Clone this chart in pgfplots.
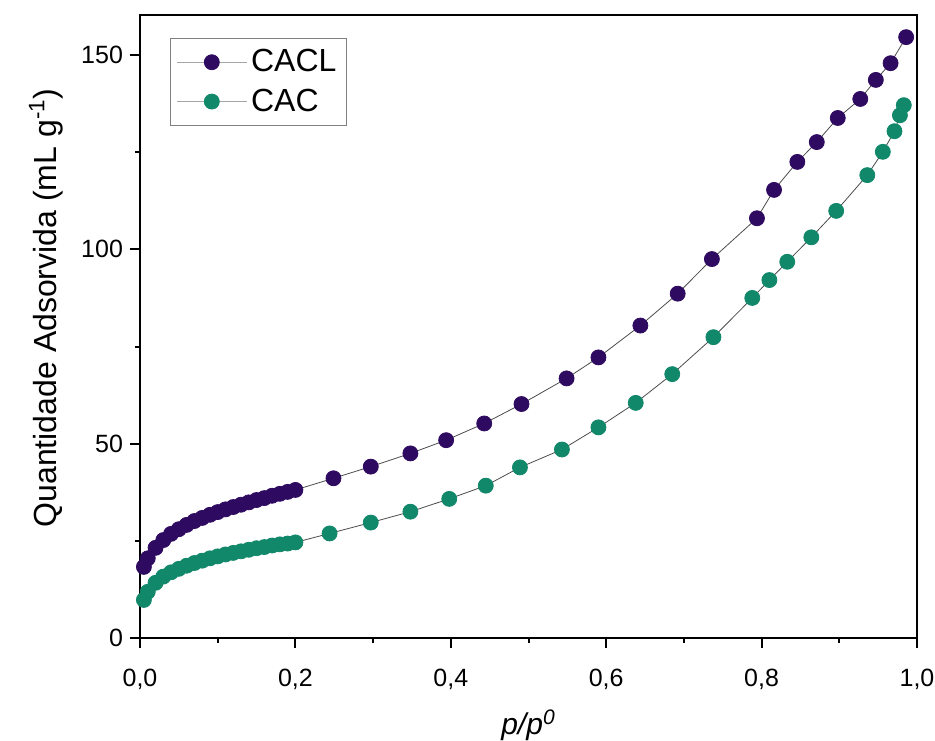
\documentclass[border=0pt]{standalone}
\usepackage{pgfplots}
\pgfplotsset{compat=1.18}
\usepackage{fontspec}
\setmainfont{Liberation Sans}
\definecolor{cacl}{RGB}{46,10,96}
\definecolor{cac}{RGB}{18,136,106}
\begin{document}
\begin{tikzpicture}
\begin{axis}[
  scale only axis,
  width=388.5pt, height=311.5pt,
  xmin=0, xmax=1, ymin=0, ymax=160.3,
  xtick={0,0.2,0.4,0.6,0.8,1.0},
  minor xtick={0.1,0.3,0.5,0.7,0.9},
  ytick={0,50,100,150},
  minor ytick={25,75,125},
  tick pos=left,
  tick align=outside,
  major tick length=5pt,
  minor tick length=2.5pt,
  every tick/.style={black, line width=1pt},
  axis line style={line width=1.3pt},
  /pgf/number format/assume math mode=true,
  tick label style={font=\fontsize{12.5}{14}\selectfont},
  xticklabel style={yshift=-7pt, /pgf/number format/.cd, use comma, fixed, fixed zerofill, precision=1},
  yticklabel style={/pgf/number format/.cd, fixed},
  xlabel={\textit{p/p}\textsuperscript{\textit{0}}},
  ylabel={Quantidade Adsorvida (mL g\textsuperscript{-1})},
  xlabel style={font=\fontsize{15}{17}\selectfont, yshift=-3pt},
  ylabel style={font=\fontsize{16}{18}\selectfont, at={(ticklabel cs:0.53)}, yshift=2pt},
  legend style={at={(0.0386,0.963)}, anchor=north west, draw=gray, line width=0.5pt,
    font=\fontsize{16}{18}\selectfont, row sep=3pt, inner xsep=3pt, inner ysep=3.5pt,
    cells={anchor=west}},
  legend image code/.code={%
    \draw[gray!70, line width=0.6pt] (0cm,0cm) -- (1.22cm,0cm);
    \draw[#1, draw=none] plot coordinates {(0.61cm,0cm)};},
]
\addplot[color=black!70, line width=0.4pt, mark=*, mark size=3.75pt,
  mark options={draw=cacl, fill=cacl}] coordinates {
(0.005,18.3) (0.01,20.5) (0.02,23.2) (0.03,25.2) (0.04,26.8) (0.05,28.0)
(0.06,29.1) (0.07,30.1) (0.08,30.9) (0.09,31.7) (0.10,32.4) (0.11,33.1)
(0.12,33.7) (0.13,34.3) (0.14,34.9) (0.15,35.5) (0.16,36.0) (0.17,36.6)
(0.18,37.1) (0.19,37.6) (0.20,38.1)
(0.249,41.1) (0.297,44.1) (0.348,47.5) (0.394,50.9) (0.443,55.2) (0.491,60.2)
(0.549,66.8) (0.590,72.2) (0.644,80.4) (0.692,88.6) (0.736,97.5) (0.794,108.0)
(0.816,115.3) (0.846,122.5) (0.871,127.6) (0.898,133.8) (0.927,138.7)
(0.947,143.6) (0.966,147.9) (0.986,154.6)
};
\addlegendentry{CACL}
\addplot[color=black!70, line width=0.4pt, mark=*, mark size=3.75pt,
  mark options={draw=cac, fill=cac}] coordinates {
(0.005,9.8) (0.01,11.9) (0.02,14.2) (0.03,15.8) (0.04,16.9) (0.05,17.8)
(0.06,18.6) (0.07,19.3) (0.08,19.9) (0.09,20.5) (0.10,21.0) (0.11,21.5)
(0.12,21.9) (0.13,22.3) (0.14,22.7) (0.15,23.1) (0.16,23.4) (0.17,23.8)
(0.18,24.1) (0.19,24.3) (0.20,24.6)
(0.244,26.9) (0.297,29.7) (0.348,32.5) (0.398,35.8) (0.445,39.2) (0.489,43.9)
(0.543,48.5) (0.590,54.2) (0.638,60.5) (0.685,67.9) (0.738,77.4) (0.788,87.5)
(0.810,92.1) (0.833,96.8) (0.864,103.1) (0.896,109.9) (0.936,119.1)
(0.956,125.1) (0.971,130.4) (0.978,134.5) (0.983,137.1)
};
\addlegendentry{CAC}
\path (rel axis cs:0,0) ++(-70pt,-51pt) coordinate (bbsw);
\path (rel axis cs:1,1) ++(9pt,7.5pt) coordinate (bbne);
\end{axis}
\pgfresetboundingbox
\useasboundingbox (bbsw) rectangle (bbne);
\end{tikzpicture}
\end{document}
